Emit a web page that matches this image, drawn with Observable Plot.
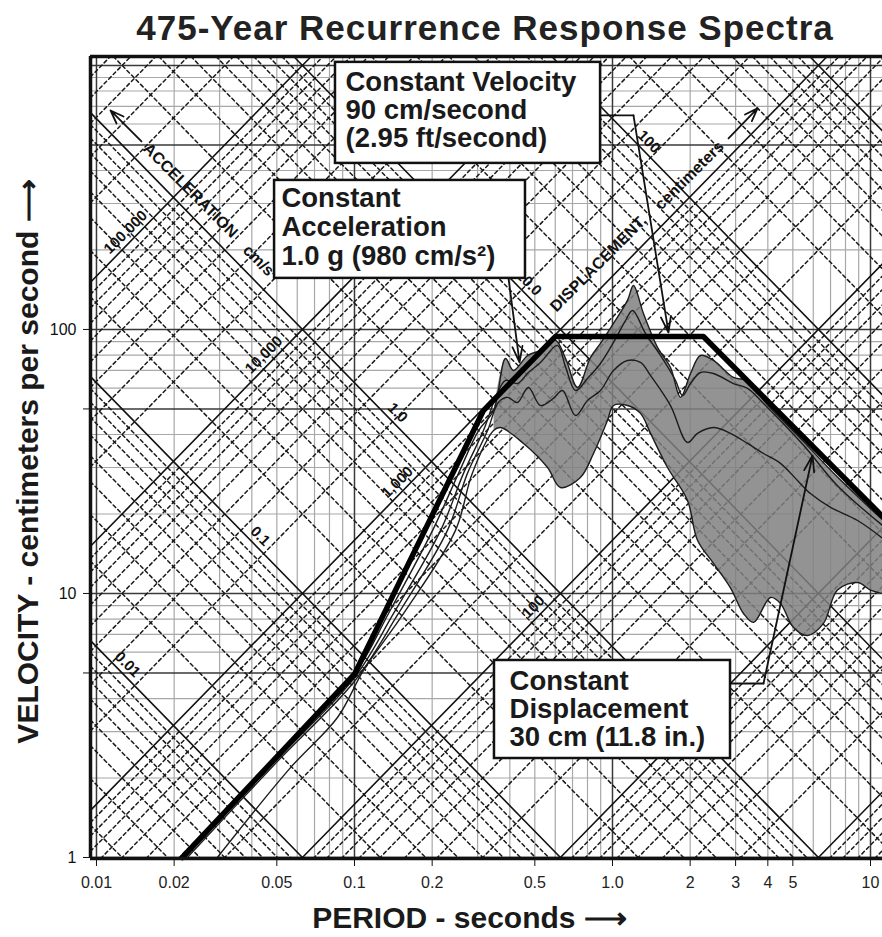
<!DOCTYPE html>
<html>
<head>
<meta charset="utf-8">
<script src="https://cdn.jsdelivr.net/npm/d3@7"></script>
<script src="https://cdn.jsdelivr.net/npm/@observablehq/plot@0.6"></script>
<style>
  body { margin: 0; background: #fff; }
  #title { height: 50px; width: 882px; padding-left: 88px; box-sizing: border-box; text-align: center;
           font: bold 35px "Liberation Sans", Arial, sans-serif; letter-spacing: 1px; line-height: 56px; color: #222; overflow: visible; white-space: nowrap; }
</style>
</head>
<body>
<div id="title">475-Year Recurrence Response Spectra</div>
<div id="chart"></div>
<script>
// ---------------- data (period in seconds, pseudo-velocity in cm/s) ----------------
const designPeriod   = [0.0215, 0.1, 0.316, 0.6, 2.25, 11.13];
const designVelocity = [1.0, 4.95, 49.3, 94, 94, 19.6];

const maxPeriod   = [0.0215, 0.05, 0.1, 0.1355, 0.2006, 0.253, 0.3026, 0.346, 0.385, 0.413, 0.469, 0.526, 0.601, 0.658, 0.732, 0.822, 0.898, 1.009, 1.143, 1.206, 1.318, 1.494, 1.678, 1.835, 2.006, 2.193, 2.463, 2.944, 3.337, 3.648, 3.849, 5.5, 7.447, 11.13];
const maxVelocity = [1.0, 2.42, 4.95, 8.4, 17.3, 28.5, 41.4, 49.3, 77.6, 69.9, 79.7, 83.3, 90.9, 77.6, 60.3, 78.3, 88.5, 105.4, 128.8, 146.8, 115.0, 85.5, 71.8, 55.3, 68.1, 79.7, 76.3, 65.8, 64.1, 58.7, 54.0, 37.6, 27.6, 19.0];

const upperPeriod   = [0.022, 0.05, 0.1, 0.1417, 0.2155, 0.2645, 0.316, 0.352, 0.385, 0.428, 0.472, 0.526, 0.612, 0.658, 0.719, 0.8, 0.898, 1.009, 1.123, 1.196, 1.342, 1.535, 1.754, 1.868, 2.006, 2.193, 2.463, 2.944, 3.337, 3.849, 5.5, 7.447, 11.13];
const upperVelocity = [1.0, 2.35, 4.8, 8.4, 17.3, 28.5, 41.4, 55, 64.1, 62.4, 68.7, 75.0, 87.0, 72.0, 58.7, 65.2, 74.3, 89.3, 108.0, 118.0, 96.6, 79.7, 64.1, 56.2, 62.4, 68.7, 68.1, 62.4, 59.8, 52.4, 36.4, 25.6, 18.1];

const medianPeriod   = [0.0225, 0.05, 0.1, 0.148, 0.229, 0.274, 0.328, 0.361, 0.392, 0.428, 0.472, 0.526, 0.59, 0.64, 0.719, 0.8, 0.898, 1.009, 1.143, 1.284, 1.404, 1.678, 1.953, 2.135, 2.463, 2.866, 3.337, 3.849, 4.478, 5.211, 5.851, 6.998, 8.91, 11.13];
const medianVelocity = [1.0, 2.3, 4.65, 8.4, 17.3, 28.5, 41.4, 52.9, 55.3, 52.9, 60.3, 51.5, 54.8, 58.7, 47.2, 53.8, 58.7, 69.9, 76.3, 75.0, 66.9, 51.5, 37.3, 40.4, 42.5, 40.4, 37.0, 33.9, 31.1, 26.8, 23.9, 21.2, 18.9, 16.2];

const minPeriod   = [0.0294, 0.0565, 0.0859, 0.1084, 0.155, 0.246, 0.286, 0.346, 0.368, 0.452, 0.56, 0.629, 0.751, 0.844, 0.956, 1.009, 1.143, 1.284, 1.404, 1.634, 1.953, 2.135, 2.463, 2.866, 3.219, 3.52, 4.096, 4.478, 5.03, 5.697, 6.572, 7.447, 8.91, 10.0, 11.13];
const minVelocity = [1.0, 2.19, 3.39, 5.11, 8.4, 17.3, 28.5, 41.4, 42.5, 37.0, 30.0, 25.2, 27.5, 33.9, 45.2, 51.5, 51.5, 48.1, 40.4, 30.0, 22.5, 15.9, 13.0, 10.5, 8.4, 7.77, 9.66, 9.17, 7.43, 6.93, 7.70, 10.3, 11.0, 10.3, 10.0];

// axes
const periodDomain   = [0.00948, 11.13];
const velocityDomain = [0.9913, 1081];
const periodTicks      = [0.01, 0.02, 0.05, 0.1, 0.2, 0.5, 1, 2, 3, 4, 5, 10];
const periodTickLabels = ["0.01", "0.02", "0.05", "0.1", "0.2", "0.5", "1.0", "2", "3", "4", "5", "10"];
const velocityTicks      = [1, 5, 10, 50, 100];
const velocityTickLabels = ["1", "5", "10", "50", "100"];

// tripartite grid values
const displacementDecades = [0.001, 0.01, 0.1, 1, 10, 100, 1000];     // cm
const accelerationDecades = [0.1, 1, 10, 100, 1000, 10000, 100000, 1000000]; // cm/s^2
const gridMultipliers = [2, 3, 4, 5, 6, 7, 8, 9];

const displacementLabelValues = [0.01, 0.1, 1, 10, 100];
const displacementLabelTexts  = ["0.01", "0.1", "1.0", "10.0", "100"];
const displacementLabelPeriod = [0.0124, 0.0405, 0.138, 0.445, 1.3];
const accelerationLabelValues = [100000, 10000, 1000, 100];
const accelerationLabelTexts  = ["100,000", "10,000", "1,000", "100"];
const accelerationLabelPeriod = [0.0138, 0.0474, 0.156, 0.526];

// annotations
const boxTexts = [
  ["Constant Velocity", "90 cm/second", "(2.95 ft/second)"],
  ["Constant", "Acceleration", "1.0 g (980 cm/s²)"],
  ["Constant", "Displacement", "30 cm (11.8 in.)"]
];
const boxPeriodLeft   = [0.0844, 0.0490, 0.3488];
const boxPeriodRight  = [0.899, 0.460, 2.867];
const boxVelocityTop  = [1027, 366.8, 5.575];
const boxVelocityBot  = [425.5, 156.1, 2.371];
const boxTextPeriod   = [0.0923, 0.0521, 0.399];
const boxTextVelocity = [[862, 675.3, 529], [313.5, 243.4, 189.0], [4.642, 3.636, 2.848]];

// leader lines: [start, elbow, arrow tip]
const leaderPeriod   = [[0.899, 1.206, 1.648], [0.3953, 0.3953, 0.4362], [2.867, 3.848, 5.961]];
const leaderVelocity = [[646.5, 646.5, 97.4], [156.1, 156.1, 75.0], [4.561, 4.561, 33.3]];

// axis family titles
const familyTitles   = ["ACCELERATION", "cm/s²", "DISPLACEMENT,", "centimeters"];
const familyPeriod   = [0.02313, 0.04322, 0.8825, 1.988];
const familyVelocity = [336.1, 179.4, 177.8, 383];
const familyRotate   = [45, 45, -45, -45];
const familyArrowFrom = [[0.01494, 515.4], [2.816, 529]];
const familyArrowTo   = [[0.01133, 675.3], [3.648, 687.3]];

// ---------------- build tables ----------------
const twoPi = 2 * Math.PI;
const toRows = (T, V, series) => T.map((t, i) => ({T: t, V: V[i], series}));
const design = toRows(designPeriod, designVelocity, "design");
const curves = [
  ...toRows(maxPeriod, maxVelocity, "max"),
  ...toRows(upperPeriod, upperVelocity, "upper"),
  ...toRows(medianPeriod, medianVelocity, "median"),
  ...toRows(minPeriod, minVelocity, "min")
];
const bandTop = toRows(maxPeriod, maxVelocity, "band").filter(d => d.T >= 0.34);
const bandBot = toRows(minPeriod, minVelocity, "band").filter(d => d.T >= 0.34).reverse();
const band = [...bandTop, ...bandBot];

function dispSeg(D, id) {
  const c = twoPi * D;
  const t0 = Math.max(periodDomain[0], c / velocityDomain[1]);
  const t1 = Math.min(periodDomain[1], c / velocityDomain[0]);
  return t0 < t1 ? [{T: t0, V: c / t0, id}, {T: t1, V: c / t1, id}] : [];
}
function accSeg(A, id) {
  const k = A / twoPi;
  const t0 = Math.max(periodDomain[0], velocityDomain[0] / k);
  const t1 = Math.min(periodDomain[1], velocityDomain[1] / k);
  return t0 < t1 ? [{T: t0, V: k * t0, id}, {T: t1, V: k * t1, id}] : [];
}
const diagSolid = [], diagDashed = [];
displacementDecades.forEach((d, i) => diagSolid.push(...dispSeg(d, "D" + i)));
accelerationDecades.forEach((a, i) => diagSolid.push(...accSeg(a, "A" + i)));
displacementDecades.forEach((d, i) => gridMultipliers.forEach(m => diagDashed.push(...dispSeg(d * m, `D${i}_${m}`))));
accelerationDecades.forEach((a, i) => gridMultipliers.forEach(m => diagDashed.push(...accSeg(a * m, `A${i}_${m}`))));

const xMinor = [], xMajor = [];
[0.01, 0.1, 1, 10].forEach(dec => [1,2,3,4,5,6,7,8,9].forEach(m => {
  const v = dec * m;
  if (v >= periodDomain[0] && v <= periodDomain[1]) (m === 1 ? xMajor : xMinor).push(v);
}));
const yMinor = [], yMajor = [];
[1, 10, 100, 1000].forEach(dec => [1,2,3,4,5,6,7,8,9].forEach(m => {
  const v = dec * m;
  if (v >= velocityDomain[0] && v <= velocityDomain[1]) ((m === 1 || m === 5) ? yMajor : yMinor).push(v);
}));

const dispLabels = displacementLabelValues.map((D, i) => ({T: displacementLabelPeriod[i], V: twoPi * D / displacementLabelPeriod[i], text: displacementLabelTexts[i]}));
const accLabels = accelerationLabelValues.map((A, i) => ({T: accelerationLabelPeriod[i], V: A * accelerationLabelPeriod[i] / twoPi, text: accelerationLabelTexts[i]}));

const boxes = boxTexts.map((_, i) => ({x1: boxPeriodLeft[i], x2: boxPeriodRight[i], y1: boxVelocityBot[i], y2: boxVelocityTop[i]}));
const boxLines = boxTexts.flatMap((lines, i) => lines.map((t, j) => ({T: boxTextPeriod[i], V: boxTextVelocity[i][j], text: t})));
const leaderLines = leaderPeriod.flatMap((ps, i) => ps.slice(0, 2).map((p, j) => ({T: p, V: leaderVelocity[i][j], id: i})));
const leaderArrows = leaderPeriod.map((ps, i) => ({x1: ps[1], y1: leaderVelocity[i][1], x2: ps[2], y2: leaderVelocity[i][2]}));
const families = familyTitles.map((t, i) => ({T: familyPeriod[i], V: familyVelocity[i], text: t, r: familyRotate[i]}));
const familyArrows = familyArrowFrom.map((f, i) => ({x1: f[0], y1: f[1], x2: familyArrowTo[i][0], y2: familyArrowTo[i][1]}));
const periodTickRows = periodTicks.map((t, i) => ({T: t, text: periodTickLabels[i]}));

const bold = "'Liberation Sans', Arial, sans-serif";
const narrow = "'Liberation Sans Narrow', 'Liberation Sans', Arial, sans-serif";

const chart = Plot.plot({
  width: 882,
  height: 887,
  marginLeft: 90,
  marginRight: 0,
  marginTop: 6,
  marginBottom: 79,
  style: {fontFamily: narrow, fontSize: "16px", background: "white", color: "#111"},
  x: {type: "log", domain: periodDomain, ticks: periodTicks, tickFormat: () => "", tickSize: 8, tickPadding: 8, label: null},
  y: {type: "log", domain: velocityDomain, ticks: velocityTicks, tickFormat: d => velocityTickLabels[velocityTicks.indexOf(d)], tickSize: 7, tickPadding: 7, label: null},
  marks: [
    Plot.ruleX(xMinor, {stroke: "#a8a8a8", strokeWidth: 1.2}),
    Plot.ruleY(yMinor, {stroke: "#a8a8a8", strokeWidth: 1.2}),
    Plot.ruleX(xMajor, {stroke: "#3a3a3a", strokeWidth: 1.5}),
    Plot.ruleY(yMajor, {stroke: "#3a3a3a", strokeWidth: 1.5}),
    Plot.line(diagDashed, {x: "T", y: "V", z: "id", stroke: "#1a1a1a", strokeWidth: 1.5, strokeDasharray: "3.5,3"}),
    Plot.line(diagSolid, {x: "T", y: "V", z: "id", stroke: "#111", strokeWidth: 1.6}),
    Plot.line(band, {x: "T", y: "V", fill: "#808080", fillOpacity: 0.85, stroke: "none", curve: "catmull-rom"}),
    Plot.line(curves, {x: "T", y: "V", z: "series", stroke: "#1c1c1c", strokeWidth: 1.4, curve: "catmull-rom"}),
    Plot.line(design, {x: "T", y: "V", stroke: "#000", strokeWidth: 5.5, strokeLinejoin: "round"}),
    Plot.text(dispLabels, {x: "T", y: "V", text: "text", rotate: 45, dx: 7, dy: -7, fontSize: 15, fontWeight: "bold", fontFamily: bold, fill: "#111"}),
    Plot.text(accLabels, {x: "T", y: "V", text: "text", rotate: -45, dx: -7, dy: -7, fontSize: 15, fontWeight: "bold", fontFamily: bold, fill: "#111"}),
    Plot.text(families, {x: "T", y: "V", text: "text", rotate: "r", fontSize: 16, fontWeight: "bold", fontFamily: bold, fill: "#111"}),
    Plot.arrow(familyArrows, {x1: "x1", y1: "y1", x2: "x2", y2: "y2", stroke: "#111", strokeWidth: 1.8, headLength: 12, headAngle: 40}),
    Plot.rect(boxes, {x1: "x1", x2: "x2", y1: "y1", y2: "y2", fill: "white", stroke: "#111", strokeWidth: 2.5}),
    Plot.text(boxLines, {x: "T", y: "V", text: "text", textAnchor: "start", fontSize: 27.5, fontWeight: "bold", fontFamily: bold, fill: "#1a1a1a"}),
    Plot.line(leaderLines, {x: "T", y: "V", z: "id", stroke: "#111", strokeWidth: 1.8}),
    Plot.arrow(leaderArrows, {x1: "x1", y1: "y1", x2: "x2", y2: "y2", stroke: "#111", strokeWidth: 1.8, headLength: 14, headAngle: 35}),
    Plot.ruleY([velocityDomain[0]], {stroke: "#111", strokeWidth: 3.5}),
    Plot.ruleY([velocityDomain[1]], {stroke: "#111", strokeWidth: 3.5}),
    Plot.ruleX([periodDomain[0]], {stroke: "#111", strokeWidth: 3.5}),
    Plot.text(periodTickRows, {x: "T", frameAnchor: "bottom", lineAnchor: "middle", textAnchor: "middle", dy: 24, text: "text", fontSize: 16, fontFamily: narrow, fill: "#222"}),
    Plot.text(["PERIOD - seconds ⟶"], {frameAnchor: "bottom", lineAnchor: "middle", textAnchor: "middle", dx: -17, dy: 60, text: d => d, fontSize: 30, fontWeight: "bold", fontFamily: bold, fill: "#1a1a1a"}),
    Plot.text(["VELOCITY - centimeters per second ⟶"], {frameAnchor: "left", lineAnchor: "middle", textAnchor: "middle", dx: -62, dy: 4, rotate: -90, text: d => d, fontSize: 30, fontWeight: "bold", fontFamily: bold, fill: "#1a1a1a"})
  ]
});
document.getElementById("chart").appendChild(chart);
</script>
</body>
</html>
